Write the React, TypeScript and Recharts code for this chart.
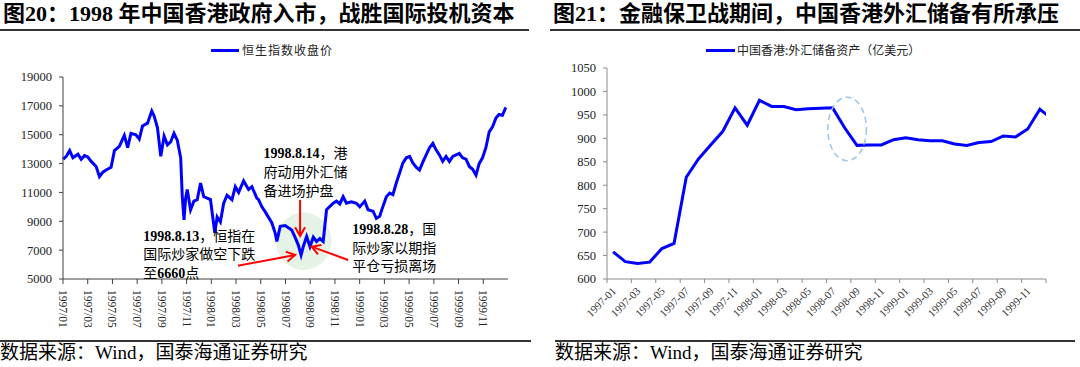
import { LineChart, Line, XAxis, YAxis, ReferenceDot, ReferenceLine, ReferenceArea } from 'recharts';

const SERIF = "'Liberation Serif', 'Noto Sans CJK SC', serif";

// 恒生指数收盘价 (month index from 1997/01)
const hsiMonth = [
  0.0, 0.27, 0.54, 0.8, 1.21, 1.47, 1.74, 2.01, 2.28, 2.68, 2.95, 3.22, 3.49, 3.89, 4.16, 4.56, 4.96, 5.23, 5.5, 5.9,
  6.17, 6.43, 6.84, 7.18, 7.37, 7.64, 7.91, 8.18, 8.45, 8.71, 8.98, 9.25, 9.52, 9.65, 9.79, 9.92, 10.05, 10.32, 10.59, 10.86,
  11.13, 11.39, 11.66, 11.93, 12.28, 12.47, 12.73, 13.0, 13.27, 13.67, 13.94, 14.21, 14.61, 15.01, 15.28, 15.68, 15.82, 16.09, 16.36, 16.89,
  17.16, 17.3, 17.57, 17.97, 18.5, 18.77, 19.04, 19.26, 19.44, 19.71, 19.98, 20.25, 20.51, 20.78, 21.05, 21.32, 21.86, 22.13, 22.39, 22.66,
  22.93, 23.33, 23.74, 24.01, 24.41, 24.68, 25.08, 25.35, 25.62, 25.89, 26.16, 26.43, 26.69, 26.96, 27.23, 27.5, 27.77, 28.04, 28.3, 28.57,
  28.84, 29.11, 29.38, 29.65, 29.92, 30.18, 30.45, 30.72, 30.99, 31.26, 31.53, 31.8, 32.06, 32.33, 32.6, 32.87, 33.14, 33.41, 33.67, 33.94,
  34.21, 34.48, 34.75, 35.02, 35.28, 35.55, 35.82,
];
const hsiValue = [
  13300, 13500, 13900, 13400, 13650, 13300, 13550, 13450, 13150, 12800, 12100, 12400, 12550, 12750, 13900, 14200, 14950, 14100, 15100, 15000,
  14700, 15600, 15800, 16650, 16300, 15500, 13500, 14900, 14300, 14500, 15100, 14600, 13400, 10700, 9100, 10600, 11200, 9800, 10400, 10500,
  11650, 10700, 10600, 10500, 8200, 9300, 8950, 10250, 10800, 10500, 11400, 11000, 11800, 11200, 11400, 10600, 10500, 10000, 9650, 8900,
  8200, 7600, 8650, 8700, 8400, 7900, 7350, 6660, 7250, 7950, 7250, 7900, 7600, 7800, 7600, 9800, 10250, 10400, 10200, 10700,
  10250, 10350, 10250, 10000, 10400, 9800, 9700, 9200, 9350, 10050, 10700, 10950, 10850, 11650, 12350, 13050, 13400, 13500, 13050, 12750,
  12550, 13100, 13600, 14100, 14400, 13950, 13600, 13150, 13500, 13150, 13500, 13600, 13700, 13400, 13300, 12800, 12600, 12200, 13000, 13400,
  14100, 15200, 15550, 16150, 16400, 16350, 16900,
];
const hsiTickLabels = [
  '1997/01', '1997/03', '1997/05', '1997/07', '1997/09', '1997/11', '1998/01', '1998/03', '1998/05',
  '1998/07', '1998/09', '1998/11', '1999/01', '1999/03', '1999/05', '1999/07', '1999/09', '1999/11',
];
const hsiYTicks = [5000, 7000, 9000, 11000, 13000, 15000, 17000, 19000];

// 中国香港:外汇储备资产（亿美元）
const reserveMonths = [
  '1997-01', '1997-02', '1997-03', '1997-04', '1997-05', '1997-06', '1997-07', '1997-08', '1997-09', '1997-10', '1997-11', '1997-12',
  '1998-01', '1998-02', '1998-03', '1998-04', '1998-05', '1998-06', '1998-07', '1998-08', '1998-09', '1998-10', '1998-11', '1998-12',
  '1999-01', '1999-02', '1999-03', '1999-04', '1999-05', '1999-06', '1999-07', '1999-08', '1999-09', '1999-10', '1999-11', '1999-12',
  '2000-01',
];
const reserveValues = [
  658, 637, 633, 636, 665, 676, 817, 856, 886, 915, 965, 928,
  981, 968, 968, 961, 963, 964, 965, 922, 885, 886, 886, 897,
  901, 897, 895, 895, 888, 885, 891, 893, 905, 903, 920, 962,
  941,
];
const reserveTickLabels = [
  '1997-01', '1997-03', '1997-05', '1997-07', '1997-09', '1997-11', '1998-01', '1998-03', '1998-05',
  '1998-07', '1998-09', '1998-11', '1999-01', '1999-03', '1999-05', '1999-07', '1999-09', '1999-11', '',
];
const reserveYTicks = [600, 650, 700, 750, 800, 850, 900, 950, 1000, 1050];

const hsiData = hsiMonth.map((m, i) => ({ m, v: hsiValue[i] }));
const reserveData = reserveValues.map((v, i) => ({ m: i + 0.5, v, label: reserveMonths[i] }));

const noteA = ['1998.8.14，港', '府动用外汇储', '备进场护盘'];
const noteB = ['1998.8.13，恒指在', '国际炒家做空下跌', '至6660点'];
const noteC = ['1998.8.28，国', '际炒家以期指', '平仓亏损离场'];

const richLine = (s: string) =>
  s
    .split(/([0-9.]+)/)
    .filter(Boolean)
    .map((seg, i) =>
      /[0-9.]/.test(seg[0]) ? (
        <tspan key={i} fontWeight={700}>
          {seg}
        </tspan>
      ) : (
        <tspan key={i}>{seg}</tspan>
      )
    );

const noteShape = (lines: string[]) => (p: any) => (
  <text x={p.cx} y={p.cy} fontSize={14} fill="#000" fontFamily={SERIF}>
    {lines.map((l, i) => (
      <tspan key={i} x={p.cx} dy={i === 0 ? 5 : 18.7}>
        {richLine(l)}
      </tspan>
    ))}
  </text>
);

const arrowShape = (p: any) => {
  const { x1, y1, x2, y2 } = p;
  const ang = Math.atan2(y2 - y1, x2 - x1);
  const len = 10;
  const a = Math.PI / 6;
  const ax = x2 - len * Math.cos(ang - a);
  const ay = y2 - len * Math.sin(ang - a);
  const bx = x2 - len * Math.cos(ang + a);
  const by = y2 - len * Math.sin(ang + a);
  return (
    <g>
      <line x1={x1} y1={y1} x2={x2} y2={y2} stroke="#ff0000" strokeWidth={2} />
      <polyline points={`${ax},${ay} ${x2},${y2} ${bx},${by}`} fill="none" stroke="#ff0000" strokeWidth={2} />
    </g>
  );
};

const circleShape = (p: any) => (
  <ellipse
    cx={p.x + p.width / 2}
    cy={p.y + p.height / 2}
    rx={p.width / 2}
    ry={p.height / 2}
    fill="#4caf50"
    fillOpacity={0.15}
    stroke="none"
  />
);

const HsiTick = (props: any) => {
  const { x, y, payload } = props;
  const idx = Math.round(payload.value / 2);
  return (
    <text
      transform={`translate(${x},${y}) rotate(90)`}
      textAnchor="start"
      dominantBaseline="central"
      fontSize={11.5}
      fill="#222"
      fontFamily={SERIF}
    >
      {hsiTickLabels[idx]}
    </text>
  );
};

const ReserveTick = (props: any) => {
  const { x, y, payload } = props;
  const idx = Math.round(payload.value / 2);
  const tx = x + 7;
  const ty = y + 2;
  return (
    <text
      x={tx}
      y={ty}
      transform={`rotate(-45, ${tx}, ${ty})`}
      textAnchor="end"
      dominantBaseline="central"
      fontSize={11}
      fill="#333"
      fontFamily={SERIF}
    >
      {reserveTickLabels[idx]}
    </text>
  );
};

const rule = (left: number, top: number, width: number) => (
  <div style={{ position: 'absolute', left, top, width, height: 1.5, background: '#333' }} />
);

export default function App() {
  return (
    <div
      style={{
        position: 'absolute',
        left: 0,
        top: 0,
        width: 1080,
        height: 367,
        background: '#fff',
        overflow: 'hidden',
        fontFamily: SERIF,
      }}
    >
      <div style={{ position: 'absolute', left: 3, top: 2, fontSize: 22, fontWeight: 700, lineHeight: '24px', whiteSpace: 'nowrap' }}>
        图20：1998 年中国香港政府入市，战胜国际投机资本
      </div>
      <div style={{ position: 'absolute', left: 553, top: 2, fontSize: 22, fontWeight: 700, lineHeight: '24px', whiteSpace: 'nowrap' }}>
        图21：金融保卫战期间，中国香港外汇储备有所承压
      </div>
      {rule(0, 29, 529)}
      {rule(550, 29, 530)}
      {rule(0, 340, 531)}
      {rule(555, 340, 520)}
      <div style={{ position: 'absolute', left: 0, top: 341, fontSize: 19, lineHeight: '24px', whiteSpace: 'nowrap' }}>
        数据来源：Wind，国泰海通证券研究
      </div>
      <div style={{ position: 'absolute', left: 555, top: 341, fontSize: 19, lineHeight: '24px', whiteSpace: 'nowrap' }}>
        数据来源：Wind，国泰海通证券研究
      </div>

      {/* legends */}
      <div style={{ position: 'absolute', left: 211, top: 49, width: 28, height: 2.5, background: '#0000ff' }} />
      <div style={{ position: 'absolute', left: 242, top: 42, fontSize: 12, lineHeight: '16px', letterSpacing: 1, color: '#222', fontFamily: "'Noto Sans CJK SC', sans-serif" }}>
        恒生指数收盘价
      </div>
      <div style={{ position: 'absolute', left: 706, top: 49, width: 29, height: 2.5, background: '#0000ff' }} />
      <div style={{ position: 'absolute', left: 737, top: 42, fontSize: 12, lineHeight: '16px', color: '#222', fontFamily: "'Noto Sans CJK SC', sans-serif", whiteSpace: 'nowrap' }}>
        中国香港:外汇储备资产（亿美元）
      </div>

      <div style={{ position: 'absolute', left: 0, top: 0 }}>
        <LineChart width={540} height={367} data={hsiData} margin={{ top: 77, right: 32, left: 0, bottom: 38 }}>
          <XAxis
            dataKey="m"
            type="number"
            domain={[0, 36]}
            ticks={[0, 2, 4, 6, 8, 10, 12, 14, 16, 18, 20, 22, 24, 26, 28, 30, 32, 34]}
            height={50}
            stroke="#404040"
            tickSize={5}
            tickMargin={6}
            tick={<HsiTick />}
            interval={0}
          />
          <YAxis
            type="number"
            domain={[5000, 19000]}
            ticks={hsiYTicks}
            width={63}
            stroke="#404040"
            tickSize={4}
            tickMargin={7}
            tick={{ fontSize: 12.5, fill: '#222', fontFamily: SERIF }}
            interval={0}
          />
          <ReferenceArea x1={17.22} x2={21.72} y1={5625} y2={9602} shape={circleShape} />
          <Line type="linear" dataKey="v" stroke="#0000ff" strokeWidth={3} dot={false} isAnimationActive={false} />
          <ReferenceLine segment={[{ x: 14.16, y: 5923 }, { x: 18.78, y: 6666 }]} shape={arrowShape} />
          <ReferenceLine segment={[{ x: 19.18, y: 10483 }, { x: 19.18, y: 7985 }]} shape={arrowShape} />
          <ReferenceLine segment={[{ x: 23.07, y: 6319 }, { x: 20.11, y: 7242 }]} shape={arrowShape} />
          <ReferenceDot x={16.23} y={13725} r={1} shape={noteShape(noteA)} />
          <ReferenceDot x={6.49} y={8005} r={1} shape={noteShape(noteB)} />
          <ReferenceDot x={23.41} y={8470} r={1} shape={noteShape(noteC)} />
        </LineChart>
      </div>

      <div style={{ position: 'absolute', left: 540, top: 0 }}>
        <LineChart width={540} height={367} data={reserveData} margin={{ top: 68, right: 34, left: 0, bottom: 38 }}>
          <XAxis
            dataKey="m"
            type="number"
            domain={[0, 36]}
            allowDataOverflow
            ticks={[0, 2, 4, 6, 8, 10, 12, 14, 16, 18, 20, 22, 24, 26, 28, 30, 32, 34, 36]}
            height={50}
            stroke="#8c8c8c"
            tickSize={4}
            tickMargin={4}
            tick={<ReserveTick />}
            interval={0}
          />
          <YAxis
            type="number"
            domain={[600, 1050]}
            ticks={reserveYTicks}
            width={67}
            stroke="#8c8c8c"
            tickSize={4}
            tickMargin={7}
            tick={{ fontSize: 12.5, fill: '#222', fontFamily: SERIF }}
            interval={0}
          />
          <Line type="linear" dataKey="v" stroke="#0000ff" strokeWidth={3} dot={false} isAnimationActive={false} />
          <ReferenceDot
            x={19.69}
            y={920}
            r={1}
            shape={(p: any) => (
              <ellipse cx={p.cx} cy={p.cy} rx={19.3} ry={31.7} fill="none" stroke="#9dc3e6" strokeWidth={1.5} strokeDasharray="6 4" />
            )}
          />
        </LineChart>
      </div>
    </div>
  );
}
